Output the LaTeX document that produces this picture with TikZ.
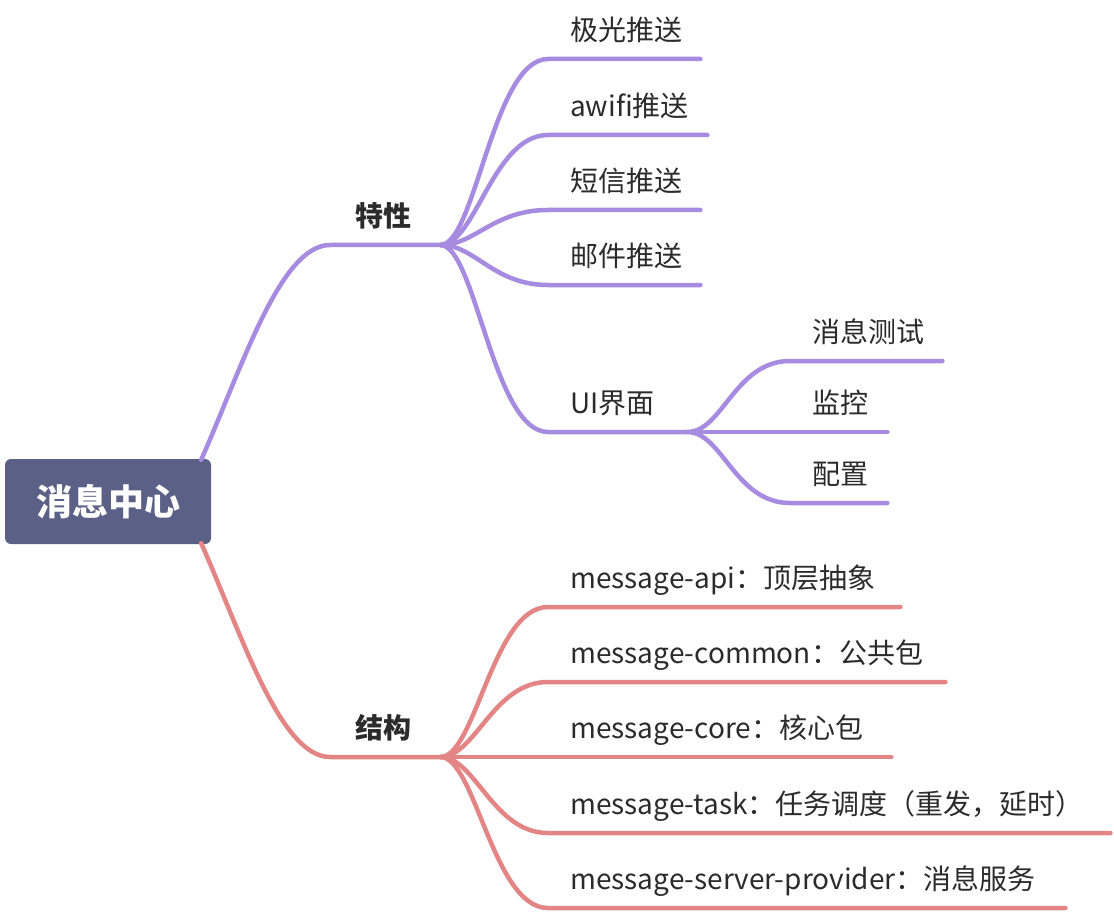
\documentclass[tikz,border=0pt]{standalone}
\usepackage{fontspec}
\setmainfont{Noto Sans CJK SC}
\usepackage{tikz}
\usetikzlibrary{calc}
\definecolor{rootcolor}{HTML}{5B6186}
\definecolor{featcolor}{HTML}{A68BE0}
\definecolor{structcolor}{HTML}{E48585}
\definecolor{textgray}{HTML}{2B2B2B}

\begin{document}
\begin{tikzpicture}[x=1pt,y=-1pt,
    conn/.style={line width=4.5pt,line cap=round},
    leaf/.style={anchor=south west,inner xsep=22pt,inner ysep=11pt,text height=22pt,text depth=7pt,
      align=left,text=textgray,font=\fontsize{28pt}{32pt}\selectfont},
    topic/.style={leaf,inner xsep=25pt,text width=60pt,font=\bfseries\fontsize{28pt}{32pt}\selectfont}]
\useasboundingbox (0,0) rectangle (1114,912);
\node[fill=rootcolor,rounded corners=6pt,minimum width=206pt,minimum height=85pt,text=white,
  font=\bfseries\fontsize{36pt}{40pt}\selectfont] (root) at (108,501.5) {消息中心};
\node[topic] (feat) at (330,245) {特性};
\node[topic] (struct) at (330,757) {结构};
\draw[conn,featcolor] ($(root.north east)+(-10,1)$) .. controls +(40,-90) and +(-50,0) .. (feat.south west) -- (feat.south east);
\draw[conn,structcolor] ($(root.south east)+(-10,-1)$) .. controls +(40,90) and +(-50,0) .. (struct.south west) -- (struct.south east);
%% features
\foreach \y/\nm/\w/\ltext in {59/jg/108/极光推送, 135/aw/115/awifi推送, 210/dx/108/短信推送, 285/yj/108/邮件推送, 432/ui/95/UI界面}
{
  \node[leaf,text width=\w pt] (\nm) at (548,\y) {\mbox{\ltext}};
  \draw[conn,featcolor] (feat.south east) .. controls +(35,0) and +(-55,0) .. (\nm.south west) -- (\nm.south east);
}
\foreach \y/\nm/\w/\ltext in {361/cs/108/消息测试, 432/jk/53/监控, 503/pz/53/配置}
{
  \node[leaf,text width=\w pt] (\nm) at (790,\y) {\mbox{\ltext}};
  \draw[conn,featcolor] (ui.south east) .. controls +(35,0) and +(-55,0) .. (\nm.south west) -- (\nm.south east);
}
%% structure
\foreach \y/\nm/\w/\ltext in {607/api/308/message-api：顶层抽象, 682/common/353/message-common：公共包,
    757/core/299/message-core：核心包, 833/task/518/message-task：任务调度（重发，延时）,
    908/provider/473/message-server-provider：消息服务}
{
  \node[leaf,text width=\w pt] (\nm) at (548,\y) {\mbox{\ltext}};
  \draw[conn,structcolor] (struct.south east) .. controls +(35,0) and +(-55,0) .. (\nm.south west) -- (\nm.south east);
}
\end{tikzpicture}
\end{document}
